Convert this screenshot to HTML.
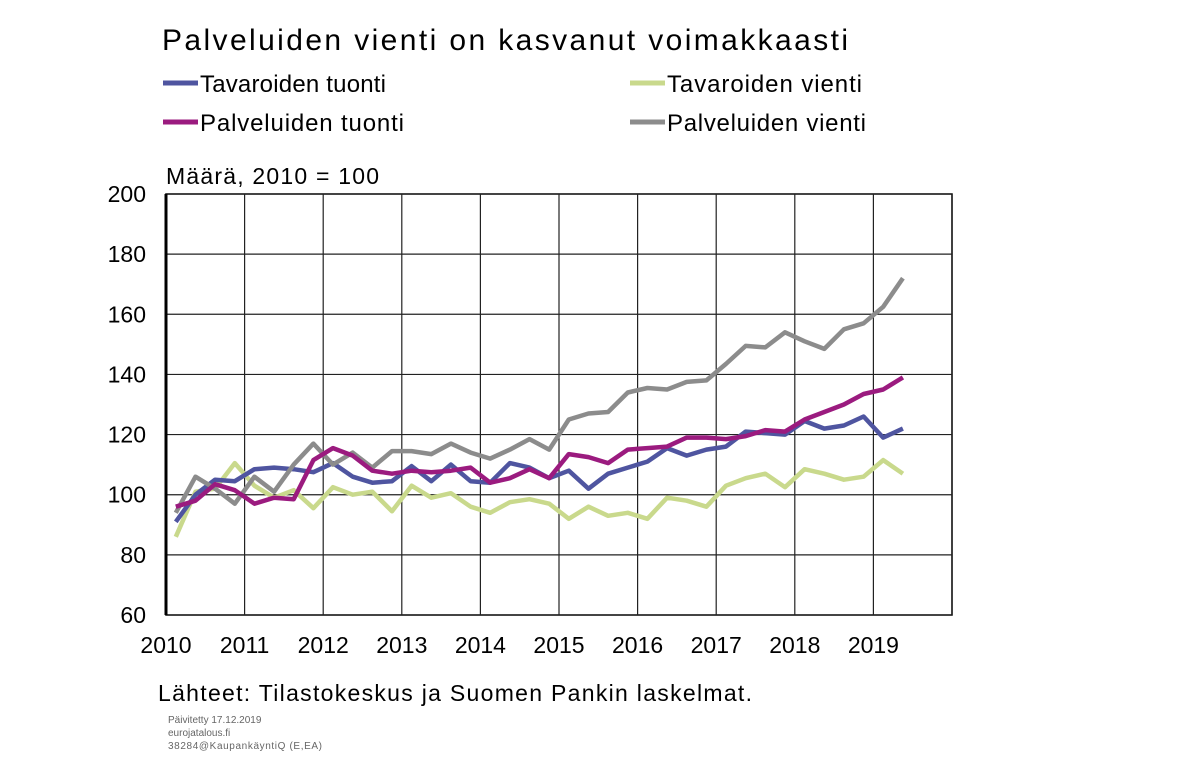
<!DOCTYPE html>
<html><head><meta charset="utf-8"><style>
body{margin:0;background:#fff;font-family:"Liberation Sans",sans-serif}
svg text{font-family:"Liberation Sans",sans-serif}
</style></head><body>
<svg width="1182" height="772" viewBox="0 0 1182 772">
<text x="162" y="50" font-size="30" textLength="686" lengthAdjust="spacing">Palveluiden vienti on kasvanut voimakkaasti</text>
<g>
<g><line x1="163" y1="83" x2="198" y2="83" stroke="#4f55a0" stroke-width="5"/><text x="200" y="92" font-size="24" textLength="186" lengthAdjust="spacing">Tavaroiden tuonti</text></g>
<g><line x1="630" y1="83" x2="665" y2="83" stroke="#c9d98c" stroke-width="5"/><text x="667" y="92" font-size="24" textLength="195" lengthAdjust="spacing">Tavaroiden vienti</text></g>
<g><line x1="163" y1="122" x2="198" y2="122" stroke="#9b1b7f" stroke-width="5"/><text x="200" y="131" font-size="24" textLength="204" lengthAdjust="spacing">Palveluiden tuonti</text></g>
<g><line x1="630" y1="122" x2="665" y2="122" stroke="#8c8c8c" stroke-width="5"/><text x="667" y="131" font-size="24" textLength="199" lengthAdjust="spacing">Palveluiden vienti</text></g>
</g>
<text x="166" y="184" font-size="23" textLength="213" lengthAdjust="spacing">Määrä, 2010 = 100</text>
<g id="grid"></g>
<g id="yticks"></g>
<g id="xticks"></g>
<g id="series"></g>
<text x="158" y="701" font-size="23" textLength="594" lengthAdjust="spacing">Lähteet: Tilastokeskus ja Suomen Pankin laskelmat.</text>
<g font-size="10" fill="#666">
<text x="168" y="723">Päivitetty  17.12.2019</text>
<text x="168" y="736">eurojatalous.fi</text>
<text x="168" y="749" textLength="154" lengthAdjust="spacing">38284@KaupankäyntiQ   (E,EA)</text>
</g>
</svg>
<script>
const yTicks=[60,80,100,120,140,160,180,200];
const years=[2010,2011,2012,2013,2014,2015,2016,2017,2018,2019];
const tavTuonti=[91,100,105,104.5,108.5,109,108.5,107.5,110.5,106,104,104.5,109.5,104.5,110,104.5,104,110.5,109,105.5,108,102,107,109,111,115.5,113,115,116,121,120.5,120,124.5,122,123,126,119,122];
const tavVienti=[86,101,102,110.5,103,99,101.5,95.5,102.5,100,101,94.5,103,99,100.5,96,94,97.5,98.5,97,92,96,93,94,92,99,98,96,103,105.5,107,102.5,108.5,107,105,106,111.5,107];
const palTuonti=[96,98,103.5,101.5,97,99,98.5,111.5,115.5,113,108,107,108,107.5,108,109,104,105.5,108.5,105.5,113.5,112.5,110.5,115,115.5,116,119,119,118.5,119.5,121.5,121,125,127.5,130,133.5,135,139];
const palVienti=[94,106,102,97,106,101,110,117,110,114,109,114.5,114.5,113.5,117,114,112,115,118.5,115,125,127,127.5,134,135.5,135,137.5,138,143.5,149.5,149,154,151,148.5,155,157,162.5,172];
const X0=166,X1=952,Y0=194,Y1=615;
const xs=t=>X0+(t-2010)/10*(X1-X0);
const ys=v=>Y1-(v-60)/140*(Y1-Y0);
const NS="http://www.w3.org/2000/svg";
function mk(tag,attrs,parent){const e=document.createElementNS(NS,tag);for(const k in attrs)e.setAttribute(k,attrs[k]);parent.appendChild(e);return e;}
const grid=document.getElementById('grid'),yt=document.getElementById('yticks'),xt=document.getElementById('xticks'),ser=document.getElementById('series');
mk('rect',{x:X0,y:Y0,width:X1-X0,height:Y1-Y0,fill:'none',stroke:'#000','stroke-width':1.5},grid);
yTicks.forEach(v=>{
  const l=mk('line',{x1:X0,x2:X1,y1:ys(v),y2:ys(v),stroke:'#222','stroke-width':1.2},grid);
  
  
  const t=mk('text',{x:146,y:ys(v)+8,'font-size':23,'text-anchor':'end'},yt);
  t.textContent=v;
  
  
});
years.forEach(y=>{
  const l=mk('line',{x1:xs(y),x2:xs(y),y1:Y0,y2:Y1,stroke:'#222','stroke-width':1.2},grid);
  
  
  const t=mk('text',{x:xs(y),y:653,'font-size':23,'text-anchor':'middle'},xt);
  t.textContent=y;
  
  
});
mk('line',{x1:X0,x2:X0,y1:Y0,y2:Y1,stroke:'#000','stroke-width':3},grid);
function draw(data,color,name){
  const pts=data.map((v,i)=>xs(2010+(i+0.5)/4).toFixed(1)+','+ys(v).toFixed(1)).join(' ');
  const p=mk('polyline',{points:pts,fill:'none',stroke:color,'stroke-width':4.5,'stroke-linejoin':'round'},ser);
  
  
}
draw(tavVienti,'#c9d98c','line-tavaroiden-vienti');
draw(tavTuonti,'#4f55a0','line-tavaroiden-tuonti');
draw(palVienti,'#8c8c8c','line-palveluiden-vienti');
draw(palTuonti,'#9b1b7f','line-palveluiden-tuonti');
</script>
</body></html>
